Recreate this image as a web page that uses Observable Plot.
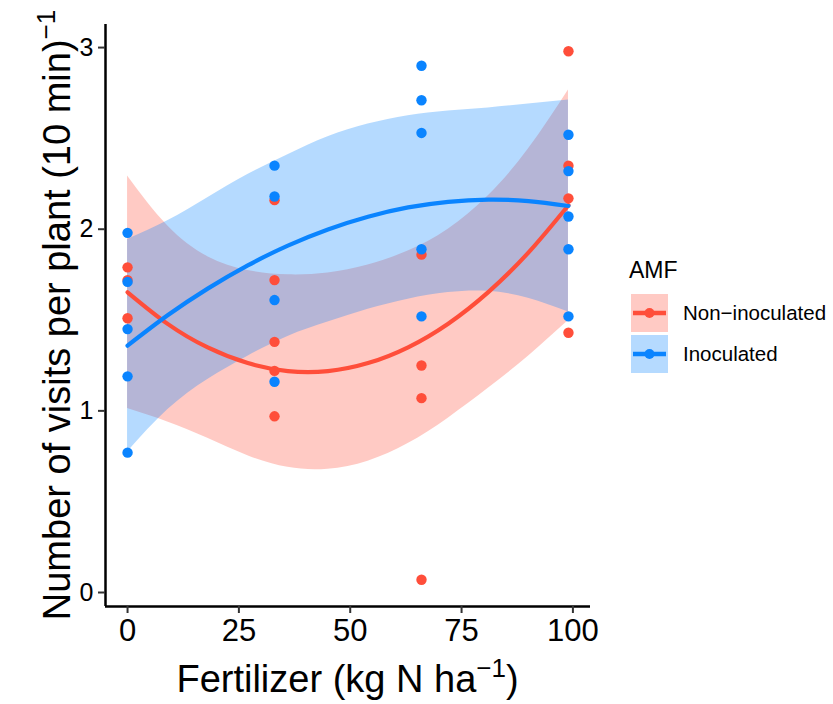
<!DOCTYPE html>
<html><head><meta charset="utf-8">
<script src="https://cdn.jsdelivr.net/npm/d3@7"></script>
<script src="https://cdn.jsdelivr.net/npm/@observablehq/plot@0.6"></script>
<style>
body{margin:0;background:#fff;}
#wrap{position:relative;width:833px;height:704px;font-family:"Liberation Sans",Arial,sans-serif;}
</style></head><body><div id="wrap"></div>
<script>
const groups = ["Non-inoculated", "Inoculated"];
const legendLabels = ["Non\u2212inoculated", "Inoculated"];
const colors = ["#FF4E3A", "#0A84FF"];
const xTicks = [0, 25, 50, 75, 100];
const yTicks = [0, 1, 2, 3];
// observed points
const nonX = [0,0,0,33,33,33,33,33,66,66,66,66,99,99,99,99];
const nonY = [1.79,1.72,1.51,2.16,1.72,1.38,1.22,0.97,1.86,1.25,1.07,0.07,2.98,2.35,2.17,1.43];
const inoX = [0,0,0,0,0,33,33,33,33,66,66,66,66,66,99,99,99,99,99];
const inoY = [1.98,1.71,1.45,1.19,0.77,2.35,2.18,1.61,1.16,2.90,2.71,2.53,1.89,1.52,2.52,2.32,2.07,1.89,1.52];
// smooth curves and confidence bands
const fitX   = [0, 9, 18, 27, 36, 45, 54, 63, 72, 81, 90, 99];
const nonFit = [1.653,1.479,1.349,1.263,1.219,1.219,1.263,1.350,1.480,1.654,1.871,2.132];
const nonLo  = [1.013,0.939,0.849,0.753,0.689,0.679,0.723,0.820,0.960,1.124,1.301,1.497];
const nonHi  = [2.293,2.019,1.849,1.773,1.749,1.759,1.803,1.880,2.000,2.184,2.441,2.767];
const inoFit = [1.359,1.526,1.673,1.801,1.910,1.999,2.069,2.120,2.151,2.163,2.155,2.128];
const inoLo  = [0.774,1.006,1.173,1.301,1.410,1.489,1.559,1.615,1.651,1.658,1.620,1.544];
const inoHi  = [1.944,2.046,2.173,2.301,2.410,2.509,2.579,2.625,2.651,2.668,2.690,2.712];

const curveRows = (fit, lo, hi) => fitX.map((x, i) => ({x, y: fit[i], lo: lo[i], hi: hi[i]}));
const nonC = curveRows(nonFit, nonLo, nonHi), inoC = curveRows(inoFit, inoLo, inoHi);
const nonP = nonX.map((x, i) => ({x, y: nonY[i]})), inoP = inoX.map((x, i) => ({x, y: inoY[i]}));
const xDomain = [-4.95, 103.95], yDomain = [-0.077, 3.127];
const ff = "Liberation Sans, Arial, sans-serif";

const chart = Plot.plot({
  width: 833, height: 704, marginTop: 24, marginBottom: 98, marginLeft: 105, marginRight: 243,
  style: {fontFamily: ff, background: "transparent", color: "black"},
  x: {domain: xDomain, label: null},
  y: {domain: yDomain, label: null},
  marks: [
    Plot.areaY(nonC, {x: "x", y1: "lo", y2: "hi", curve: "natural", fill: colors[0], fillOpacity: 0.3}),
    Plot.areaY(inoC, {x: "x", y1: "lo", y2: "hi", curve: "natural", fill: colors[1], fillOpacity: 0.3}),
    Plot.line(nonC, {x: "x", y: "y", curve: "natural", stroke: colors[0], strokeWidth: 4.2}),
    Plot.line(inoC, {x: "x", y: "y", curve: "natural", stroke: colors[1], strokeWidth: 4.2}),
    Plot.dot(nonP, {x: "x", y: "y", r: 5.2, fill: colors[0]}),
    Plot.dot(inoP, {x: "x", y: "y", r: 5.2, fill: colors[1]}),
    Plot.ruleX([xDomain[0]], {stroke: "black", strokeWidth: 2.5}),
    Plot.ruleY([yDomain[0]], {stroke: "black", strokeWidth: 2.5}),
    Plot.axisX({ticks: xTicks, tickSize: 7, tickPadding: 5, fontSize: 31, label: null, stroke: "#333", strokeWidth: 2, fill: "black"}),
    Plot.axisY({ticks: yTicks, tickFormat: d => String(d), tickSize: 7, tickPadding: 5, fontSize: 25, label: null, stroke: "#333", strokeWidth: 2, fill: "black"})
  ]
});
document.getElementById("wrap").appendChild(chart);
const svg = d3.select(chart);
const xt = svg.append("text").attr("x", 347.5).attr("y", 692).attr("text-anchor", "middle").attr("font-size", 38).attr("font-family", ff).attr("fill", "black");
xt.append("tspan").text("Fertilizer (kg N ha");
xt.append("tspan").attr("font-size", 26).attr("dy", -15).text("\u22121");
xt.append("tspan").attr("dy", 15).text(")");
const yt = svg.append("text").attr("transform", "translate(70,315) rotate(-90)").attr("text-anchor", "middle").attr("font-size", 38).attr("font-family", ff).attr("fill", "black");
yt.append("tspan").text("Number of visits per plant (10 min)");
yt.append("tspan").attr("font-size", 26).attr("dy", -15).text("\u22121");
const lg = svg.append("g").attr("font-family", ff).attr("text-anchor", "start").attr("fill", "black");
lg.append("text").attr("x", 629).attr("y", 278).attr("font-size", 23).text("AMF");
groups.forEach((g, i) => {
  const y0 = 294 + i * 41;
  lg.append("rect").attr("x", 631).attr("y", y0).attr("width", 37).attr("height", 38).attr("fill", colors[i]).attr("fill-opacity", 0.3);
  lg.append("line").attr("x1", 633).attr("x2", 666).attr("y1", y0 + 19).attr("y2", y0 + 19).attr("stroke", colors[i]).attr("stroke-width", 4.5);
  lg.append("circle").attr("cx", 649.5).attr("cy", y0 + 19).attr("r", 5).attr("fill", colors[i]);
  lg.append("text").attr("x", 683).attr("y", y0 + 26).attr("font-size", 20.5).text(legendLabels[i]);
});
</script></body></html>
